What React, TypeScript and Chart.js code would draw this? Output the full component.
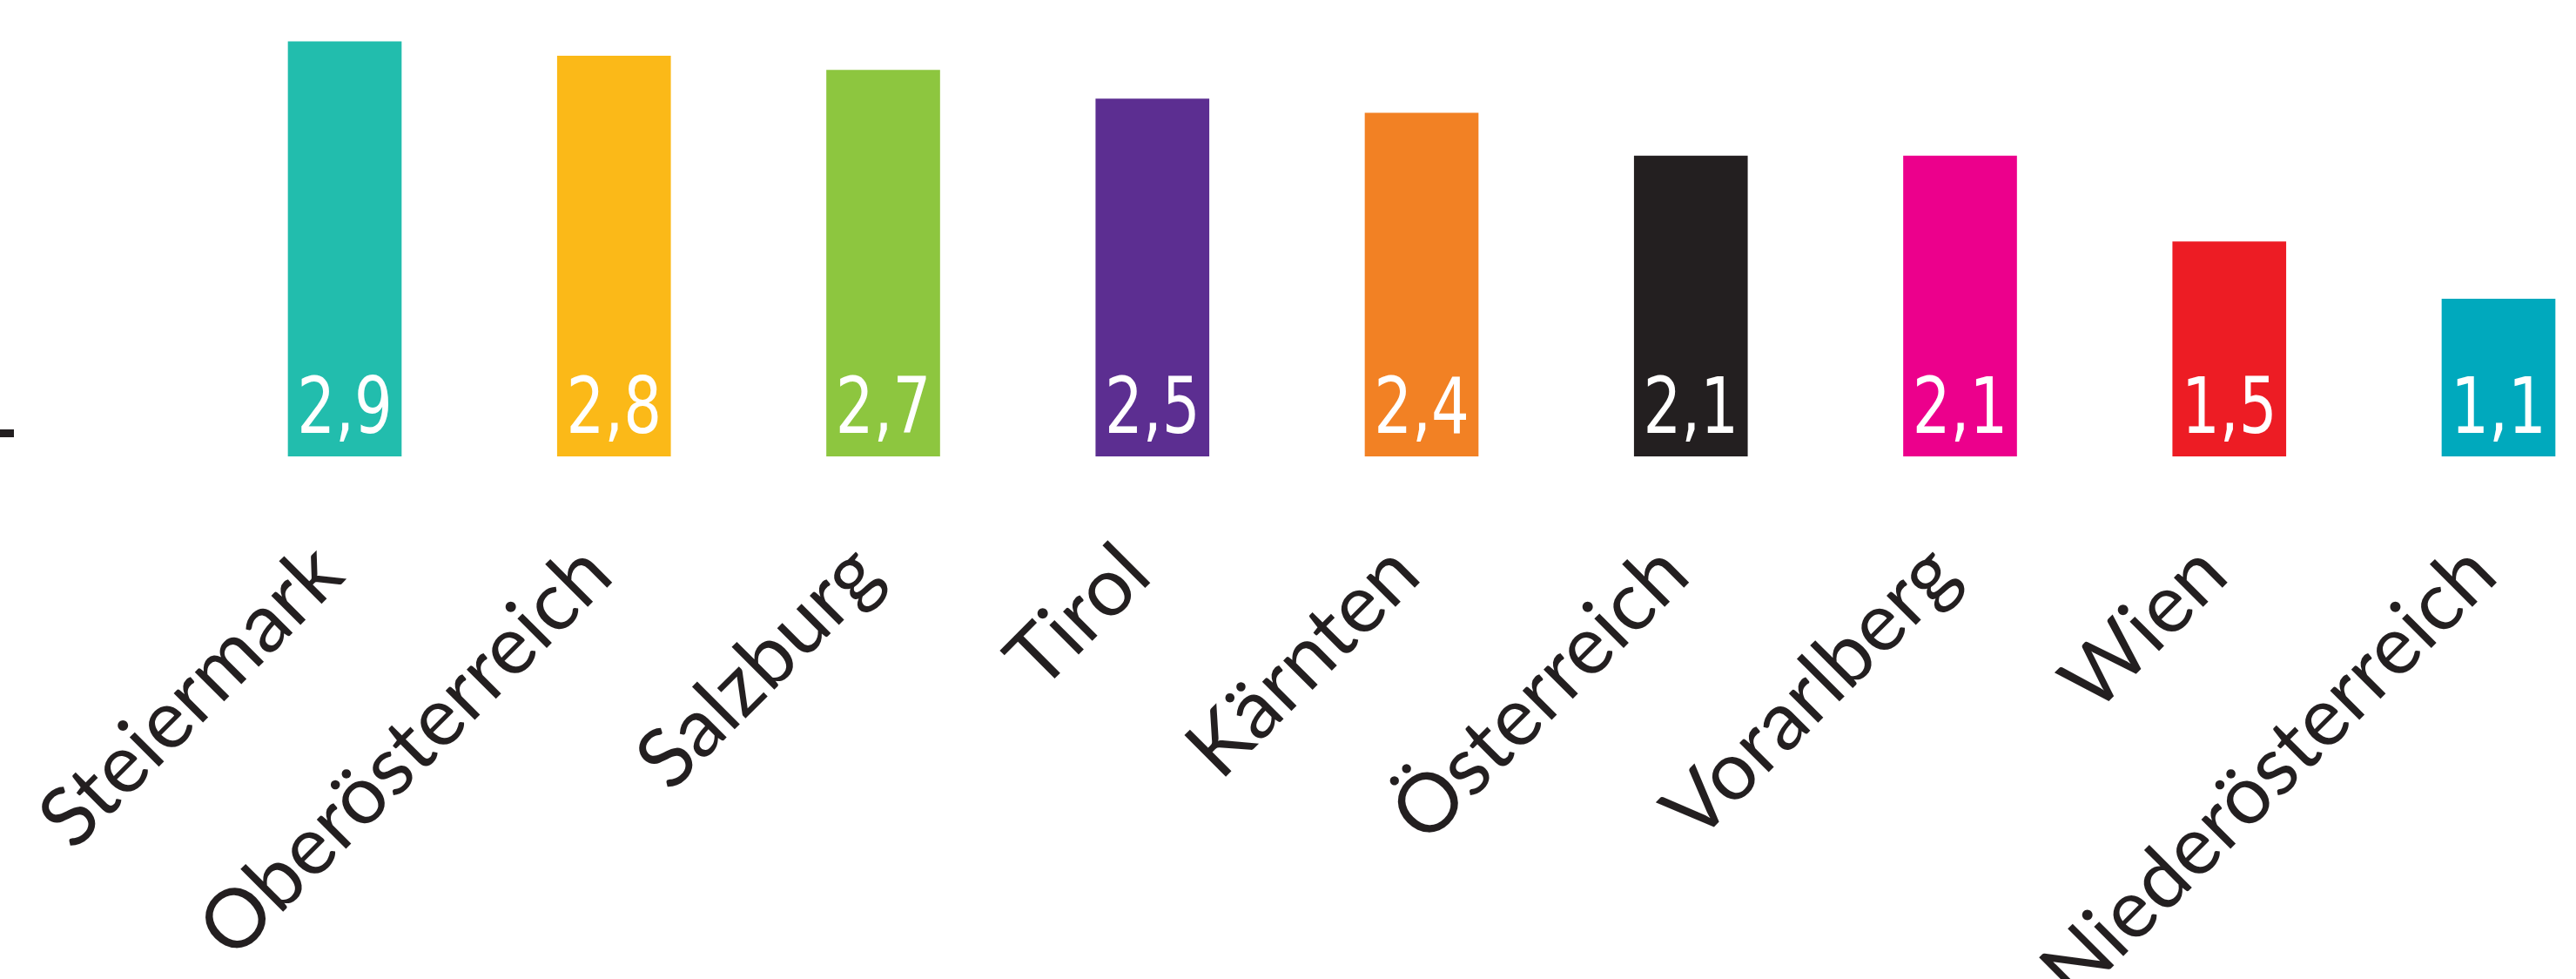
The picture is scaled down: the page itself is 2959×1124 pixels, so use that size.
import React, { useEffect, useRef } from "react";
import { Chart, registerables } from "chart.js";

Chart.register(...registerables);

const categories = [
  "Steiermark",
  "Oberösterreich",
  "Salzburg",
  "Tirol",
  "Kärnten",
  "Österreich",
  "Vorarlberg",
  "Wien",
  "Niederösterreich",
];
const values = [2.9, 2.8, 2.7, 2.5, 2.4, 2.1, 2.1, 1.5, 1.1];
const barColors = [
  "#22BDAD",
  "#FBB918",
  "#8DC63F",
  "#5C2E91",
  "#F28124",
  "#231F20",
  "#EC008C",
  "#ED1C24",
  "#00A9BD",
];
const yMarkTicks = [0.16];

const valueLabelPlugin = {
  id: "valueLabels",
  afterDatasetsDraw(chart: any) {
    const ctx = chart.ctx;
    const meta = chart.getDatasetMeta(0);
    ctx.save();
    ctx.fillStyle = "#ffffff";
    ctx.textAlign = "center";
    ctx.textBaseline = "alphabetic";
    ctx.font = '89px "DejaVu Sans Condensed", "DejaVu Sans", sans-serif';
    meta.data.forEach((bar: any, i: number) => {
      const txt = values[i].toFixed(1).replace(".", ",");
      ctx.save();
      ctx.translate(bar.x, bar.base - 27);
      ctx.scale(0.86, 1);
      ctx.fillText(txt, 0, 0);
      ctx.restore();
    });
    ctx.restore();
  },
};

export default function App() {
  const ref = useRef<HTMLCanvasElement>(null);
  useEffect(() => {
    if (!ref.current) return;
    const chart = new Chart(ref.current, {
      type: "bar",
      data: {
        datasets: [
          {
            data: categories.map((c, i) => ({ x: i, y: values[i] })),
            backgroundColor: barColors,
            borderWidth: 0,
            barThickness: 130,
          },
        ],
      },
      options: {
        animation: false,
        responsive: false,
        devicePixelRatio: 1,
        layout: { padding: 0 },
        plugins: { legend: { display: false }, tooltip: { enabled: false } },
        scales: {
          x: {
            type: "linear",
            position: "bottom",
            offset: false,
            min: -1.2288,
            max: 8.2878,
            grid: { display: false },
            border: { display: false },
            afterBuildTicks: (scale: any) => {
              scale.ticks = categories.map((c, i) => ({ value: i }));
            },
            afterFit: (scale: any) => {
              scale.height = 600;
              scale.paddingLeft = 0;
              scale.paddingRight = 0;
            },
            ticks: {
              autoSkip: false,
              minRotation: 45,
              maxRotation: 45,
              padding: 71,
              labelOffset: -19,
              color: "#231F20",
              font: { family: "Lato", size: 94 },
              callback: (v: any) => categories[v] ?? "",
            },
          },
          y: {
            min: 0,
            max: 3.191,
            position: "left",
            border: { display: false },
            grid: {
              drawOnChartArea: false,
              drawTicks: true,
              tickLength: 16,
              tickWidth: 9,
              tickColor: "#231F20",
            },
            ticks: { display: false },
            afterBuildTicks: (scale: any) => {
              scale.ticks = yMarkTicks.map((v) => ({ value: v }));
            },
            afterFit: (scale: any) => {
              scale.width = 16;
              scale.paddingTop = 0;
              scale.paddingBottom = 0;
            },
          },
        },
      },
      plugins: [valueLabelPlugin],
    });
    return () => chart.destroy();
  }, []);
  return (
    <div style={{ position: "fixed", left: 0, top: 0, width: 2959, height: 1124, background: "#fff" }}>
      <canvas ref={ref} width={2959} height={1124} style={{ display: "block" }} />
    </div>
  );
}
